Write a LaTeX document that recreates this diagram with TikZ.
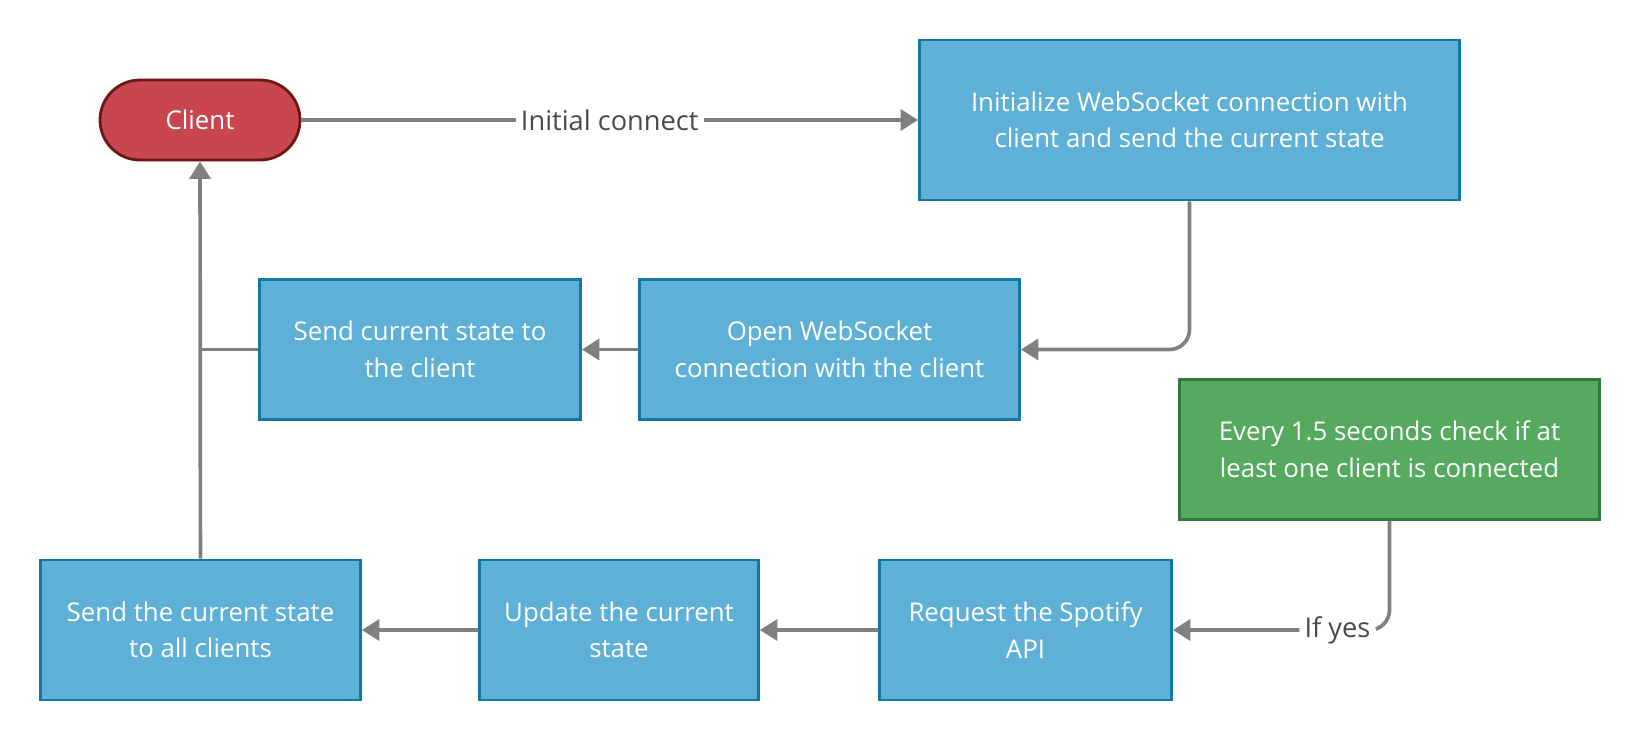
\documentclass[tikz,border=0pt]{standalone}
\usepackage{fontspec}
\setmainfont{Open Sans}
\usetikzlibrary{arrows.meta}
\definecolor{boxblue}{HTML}{5FB0D6}
\definecolor{edgeblue}{HTML}{1478A6}
\definecolor{clientred}{HTML}{C9464F}
\definecolor{edgered}{HTML}{6A151B}
\definecolor{boxgreen}{HTML}{56AA60}
\definecolor{edgegreen}{HTML}{2E7A36}
\definecolor{linegray}{HTML}{808080}
\definecolor{labelgray}{HTML}{4A4A4A}
\tikzset{%
  >={Triangle[width=12pt,length=10pt]},
  % Specifications for style of nodes:
            base/.style = {rectangle, line width=1.6pt, text=white,
                           align=center, font=\fontsize{14.7}{20.8}\selectfont},
          client/.style = {base, rounded corners=0.8cm, draw=edgered,
                           fill=clientred, minimum width=4cm, minimum height=1.6cm},
         process/.style = {base, draw=edgeblue, fill=boxblue, minimum height=2.8cm},
           timer/.style = {base, draw=edgegreen, fill=boxgreen, minimum height=2.8cm},
            flow/.style = {draw=linegray, line width=2.1pt},
        edgetext/.style = {fill=white, text=labelgray, inner sep=3pt,
                           font=\fontsize{15.5}{18}\selectfont},
}

\begin{document}
\begin{tikzpicture}
\useasboundingbox (0,0) rectangle (32.8,-14.8);
  % Specification of nodes (position, etc.)

\node (client) at (4.0,-2.4)       [client]                  {Client};
\node (initWS) at (23.79,-2.4)     [process, minimum width=10.8cm, minimum height=3.2cm]
                                      {Initialize WebSocket connection with\\client and send the current state};

\node (sendState) at (8.4,-6.99)   [process, minimum width=6.42cm]  {Send current state to\\the client};
\node (openWS) at (16.59,-6.99)    [process, minimum width=7.6cm]   {Open WebSocket\\connection with the client};

\node (everyCheck) at (27.79,-8.99) [timer, minimum width=8.4cm]
                                      {Every 1.5 seconds check if at\\least one client is connected};

\node (sendAll) at (4.01,-12.6)    [process, minimum width=6.4cm]   {Send the current state\\to all clients};
\node (update) at (12.38,-12.6)    [process, minimum width=5.58cm]  {Update the current\\state};
\node (spotify) at (20.51,-12.6)   [process, minimum width=5.84cm]  {Request the Spotify\\API};

\coordinate (join) at (client |- sendState);

\draw[flow,->]     (client) -- node[edgetext, pos=0.5] {Initial connect} (initWS);
\draw[flow,->,rounded corners=0.4cm]  (initWS.south) |- (openWS.east);
\draw[flow,->]     (openWS) -- (sendState);
\draw[flow]        (sendState.west) -- (join);

\draw[flow,->,rounded corners=0.4cm]  (everyCheck.south) |- node[edgetext, pos=0.62] {If yes} (spotify.east);
\draw[flow,->]     (spotify) -- (update);
\draw[flow,->]     (update) -- (sendAll);
\draw[flow,->]     (sendAll) -- (client);
\end{tikzpicture}
\end{document}
